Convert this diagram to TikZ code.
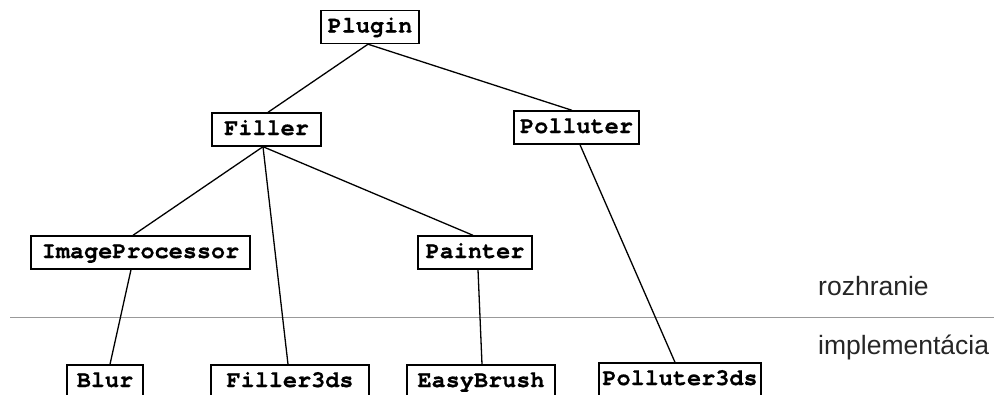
\documentclass[tikz,border=0pt]{standalone}
\usepackage{fontspec}
\setmonofont{texgyrecursor}[Extension=.otf, UprightFont=*-regular, BoldFont=*-bold,
  BoldFeatures={FakeBold=0.6}]
\setsansfont{Liberation Sans}
\usetikzlibrary{positioning}

\tikzset{
  cls/.style={draw=black, line width=1.4pt, fill=white, inner xsep=0pt, inner ysep=0pt,
    text height=22pt, text depth=11pt,
    font=\fontsize{23.5}{28}\selectfont\ttfamily\bfseries},
  link/.style={draw=black, line width=1.3pt},
  layerlabel/.style={anchor=base west, inner sep=0pt,
    font=\fontsize{26.5}{30}\selectfont\sffamily, text=black!85},
  divider/.style={draw=black!40, line width=1.5pt}
}

\begin{document}
\begin{tikzpicture}[x=1pt, y=-1pt]
  \useasboundingbox (0,0) rectangle (994,394);

  % layer divider and its labels
  \coordinate (divL) at (10,317.5);
  \coordinate (divR) at (994,317.5);
  \draw[divider] (divL) -- (divR);
  \node[layerlabel] (iface) at (818,295) {rozhranie};
  \node[layerlabel] (impl) at (818,354) {implementácia};

  % interface classes
  \node[cls, minimum width=98pt]  (plugin)   at (370,27)      {Plugin};
  \node[cls, minimum width=109pt] (filler)   at (266.5,129.5) {Filler};
  \node[cls, minimum width=125pt] (polluter) at (576.5,127.5) {Polluter};
  \node[cls, minimum width=219pt] (imgproc)  at (140.5,252.5) {ImageProcessor};
  \node[cls, minimum width=114pt] (painter)  at (475,252.5)   {Painter};

  % implementation classes
  \node[cls, minimum width=76pt]  (blur)        at (105,381.5) {Blur};
  \node[cls, minimum width=158pt] (filler3ds)   at (290,381.5) {Filler3ds};
  \node[cls, minimum width=148pt] (easybrush)   at (481,381.5) {EasyBrush};
  \node[cls, minimum width=162pt] (polluter3ds) at (680,379.5) {Polluter3ds};

  % hierarchy
  \draw[link] ([xshift=-2pt]plugin.south) -- ([xshift=1.5pt]filler.north);
  \draw[link] ([xshift=-2pt]plugin.south) -- ([xshift=-4.5pt]polluter.north);
  \draw[link] ([xshift=-3.5pt]filler.south) -- ([xshift=-7.5pt]imgproc.north);
  \draw[link] ([xshift=-3.5pt]filler.south) -- ([xshift=-2pt]filler3ds.north);
  \draw[link] ([xshift=-3.5pt]filler.south) -- ([xshift=-2pt]painter.north);
  \draw[link] ([xshift=3.5pt]polluter.south) -- ([xshift=-5pt]polluter3ds.north);
  \draw[link] ([xshift=-9.5pt]imgproc.south) -- ([xshift=5pt]blur.north);
  \draw[link] ([xshift=3pt]painter.south) -- ([xshift=1pt]easybrush.north);
\end{tikzpicture}
\end{document}
